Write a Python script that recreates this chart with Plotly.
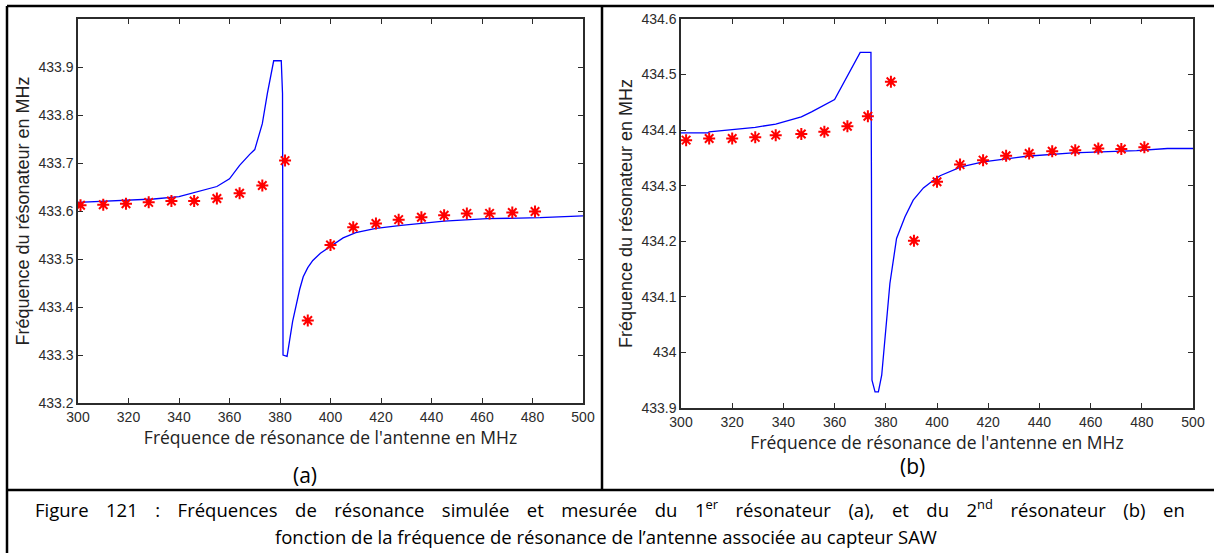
import plotly.graph_objects as go

# ---- data ----
# (a) 1er resonateur
freq_a_sim = [300, 310, 320, 330, 340, 350, 355, 360, 364, 368, 370, 373, 375, 377.5,
              380.5, 381, 381.2, 382.8, 385, 387.8, 389.2, 391, 393, 396, 400, 405,
              410, 418, 428, 445, 462, 483, 500]
res_a_sim = [433.618, 433.620, 433.622, 433.625, 433.630, 433.643, 433.651, 433.667,
             433.695, 433.718, 433.728, 433.782, 433.845, 433.913, 433.913, 433.845,
             433.300, 433.297, 433.370, 433.437, 433.463, 433.482, 433.497, 433.512,
             433.527, 433.544, 433.555, 433.564, 433.570, 433.579, 433.584, 433.586,
             433.590]
freq_a_meas = [301, 310, 319, 328, 337, 346, 355, 364, 373, 382, 391, 400, 409, 418,
               427, 436, 445, 454, 463, 472, 481]
res_a_meas = [433.612, 433.613, 433.615, 433.618, 433.621, 433.621, 433.626, 433.637,
              433.653, 433.705, 433.372, 433.529, 433.566, 433.574, 433.582, 433.587,
              433.591, 433.595, 433.595, 433.597, 433.599]

# (b) 2nd resonateur
freq_b_sim = [300, 310.5, 311, 320, 329, 337, 347, 351, 360, 370, 374.2, 374.4, 374.6,
              375.8, 377.1, 378.4, 380.3, 381.6, 384.2, 387.5, 390.7, 394.7, 398.6,
              401.2, 409.4, 418, 435, 453, 478, 490, 500]
res_b_sim = [434.395, 434.395, 434.397, 434.401, 434.405, 434.411, 434.424, 434.433,
             434.455, 434.540, 434.540, 434.310, 433.950, 433.929, 433.929, 433.959,
             434.052, 434.124, 434.205, 434.244, 434.274, 434.296, 434.310, 434.318,
             434.334, 434.343, 434.353, 434.359, 434.363, 434.367, 434.367]
freq_b_meas = [302, 311, 320, 329, 337, 347, 356, 365, 373, 382, 391, 400, 409, 418,
               427, 436, 445, 454, 463, 472, 481]
res_b_meas = [434.382, 434.385, 434.385, 434.387, 434.391, 434.393, 434.397, 434.407,
              434.425, 434.487, 434.201, 434.307, 434.338, 434.346, 434.354, 434.358,
              434.362, 434.364, 434.367, 434.366, 434.369]

x_ticks = [300, 320, 340, 360, 380, 400, 420, 440, 460, 480, 500]
y_ticks_a = [433.2, 433.3, 433.4, 433.5, 433.6, 433.7, 433.8, 433.9, 434.0]
y_text_a = ['433.2', '433.3', '433.4', '433.5', '433.6', '433.7', '433.8', '433.9', '']
y_ticks_b = [433.9, 434.0, 434.1, 434.2, 434.3, 434.4, 434.5, 434.6]
y_text_b = ['433.9', '434', '434.1', '434.2', '434.3', '434.4', '434.5', '434.6']

x_title = "Fréquence de résonance de l'antenne en MHz"
y_title = "Fréquence du résonateur en MHz"
caption_1 = ("Figure 121 : Fréquences de résonance simulée et mesurée du 1<sup>er</sup> "
             "résonateur (a), et du 2<sup>nd</sup> résonateur (b) en")
caption_2 = "fonction de la fréquence de résonance de l’antenne associée au capteur SAW"

W, H = 1214, 553


def px(x):
    return x / W


def py(y):
    return 1 - y / H


fig = go.Figure()

for xs, ys, xa, ya in [(freq_a_sim, res_a_sim, 'x', 'y'), (freq_b_sim, res_b_sim, 'x2', 'y2')]:
    fig.add_trace(go.Scatter(x=xs, y=ys, xaxis=xa, yaxis=ya, mode='lines',
                             line={'color': '#0000ff', 'width': 1.3}, showlegend=False))

for xs, ys, xa, ya in [(freq_a_meas, res_a_meas, 'x', 'y'), (freq_b_meas, res_b_meas, 'x2', 'y2')]:
    fig.add_trace(go.Scatter(x=xs, y=ys, xaxis=xa, yaxis=ya, mode='markers',
                             marker={'symbol': 'asterisk-open', 'size': 10, 'color': '#ff0000',
                                     'line': {'color': '#ff0000', 'width': 2}},
                             showlegend=False))

axis_style = dict(showline=True, linecolor='#2b2b2b', linewidth=1.5, mirror='ticks',
                  ticks='inside', ticklen=5, tickcolor='#2b2b2b', tickwidth=1,
                  showgrid=False, zeroline=False, automargin=False,
                  tickfont=dict(family='Liberation Sans', size=14, color='#2b2b2b'))
title_x = dict(text=x_title, font=dict(family='Open Sans', size=17.5, color='#222'), standoff=8)
title_y = dict(text=y_title, font=dict(family='Liberation Sans', size=18, color='#222'),
               standoff=4)

fig.update_layout(
    width=W, height=H,
    margin=dict(l=0, r=0, t=0, b=0),
    paper_bgcolor='white', plot_bgcolor='white',
    xaxis=dict(axis_style, domain=[px(78), px(583)], range=[300, 500], tickvals=x_ticks,
               anchor='y', title=title_x),
    yaxis=dict(axis_style, domain=[py(403), py(19)], range=[433.2, 434.0],
               tickvals=y_ticks_a, ticktext=y_text_a, anchor='x', title=title_y),
    xaxis2=dict(axis_style, domain=[px(681), px(1193)], range=[300, 500], tickvals=x_ticks,
                anchor='y2', title=title_x),
    yaxis2=dict(axis_style, domain=[py(408), py(19)], range=[433.9, 434.6],
                tickvals=y_ticks_b, ticktext=y_text_b, anchor='x2', title=title_y),
)

# table frame around the figure
frame = dict(type='line', xref='paper', yref='paper', line=dict(color='black', width=2.5))
fig.add_shape(frame, x0=px(7), x1=1, y0=py(6), y1=py(6))
fig.add_shape(frame, x0=px(7), x1=px(7), y0=py(6), y1=0)
fig.add_shape(frame, x0=px(602), x1=px(602), y0=py(6), y1=py(490))
fig.add_shape(frame, x0=px(7), x1=1, y0=py(490), y1=py(490))

# first caption line is justified in the source document: widen the word gaps
gap = ' ' + '\u00a0' * 2 + '\u2009'
word_font = dict(family='Open Sans', size=21, color='black')
label = dict(xref='paper', yref='paper', showarrow=False, xanchor='center', yanchor='middle')
fig.add_annotation(label, x=px(305), y=py(475), text='(a)', font=word_font)
fig.add_annotation(label, x=px(912), y=py(466), text='(b)', font=word_font)
fig.add_annotation(label, x=px(610), y=py(508), text=caption_1.replace(' ', gap),
                   font=dict(word_font, size=18.5))
fig.add_annotation(label, x=px(606), y=py(536), text=caption_2,
                   font=dict(word_font, size=18.5))

fig.write_html("out.html", config={'displayModeBar': False},
               post_script="document.body.style.margin='0';")
